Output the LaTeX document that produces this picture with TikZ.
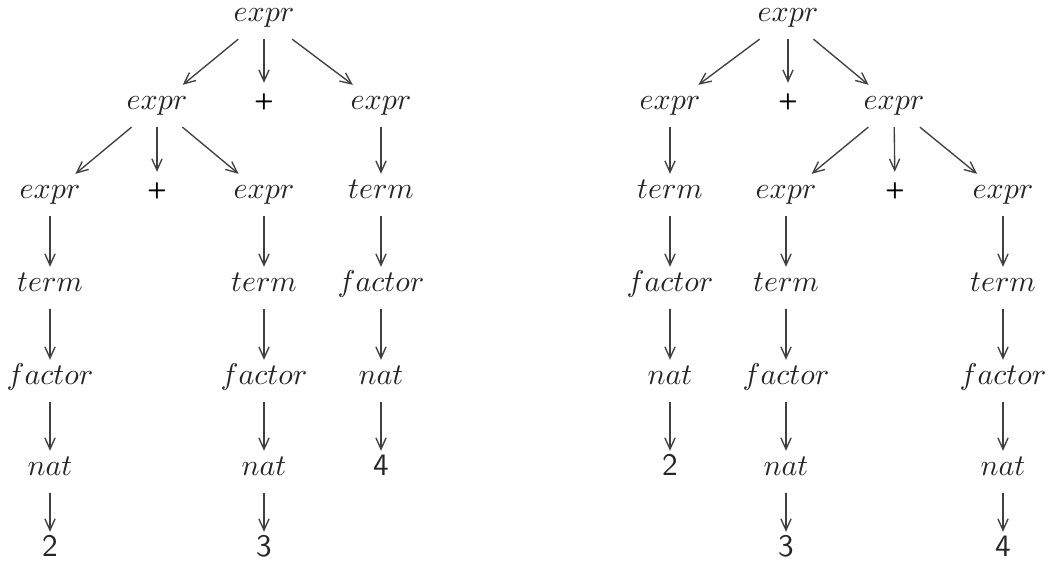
\documentclass[tikz,border=0pt]{standalone}
\usetikzlibrary{arrows.meta}
\begin{document}
\begin{tikzpicture}[x=0.3333pt,y=-0.3333pt,
  nt/.style={font=\fontsize{10.4}{12}\selectfont, text=black!85, text height=6pt, text depth=3.7pt, inner xsep=1pt, inner ysep=2pt},
  tm/.style={nt, font=\fontsize{10.4}{12}\selectfont\sffamily},
  pl/.style={nt, font=\fontsize{7.5}{9}\selectfont\sffamily\bfseries, text=black},
  edge/.style={draw=black!75, line width=0.45pt, -{Straight Barb[length=3.8pt,width=3.4pt]}}]
\useasboundingbox (0,0) rectangle (1050,562);
% left tree
\node[nt] (A) at (264,18) {$expr$};
\node[nt] (B) at (157,106) {$expr$};
\node[pl] (Bp) at (264,104) {+};
\node[nt] (C) at (381,106) {$expr$};
\node[nt] (D) at (50,195) {$expr$};
\node[pl] (Dp) at (157,193) {+};
\node[nt] (E) at (264,195) {$expr$};
\node[nt] (C1) at (381,195) {$term$};
\node[nt] (D1) at (50,288) {$term$};
\node[nt] (E1) at (264,288) {$term$};
\node[nt] (C2) at (381,288) {$factor$};
\node[nt] (D2) at (50,381) {$factor$};
\node[nt] (E2) at (264,381) {$factor$};
\node[nt] (C3) at (381,381) {$nat$};
\node[nt] (D3) at (50,472) {$nat$};
\node[nt] (E3) at (264,472) {$nat$};
\node[tm] (C4) at (381,472) {4};
\node[tm] (D4) at (50,553) {2};
\node[tm] (E4) at (264,553) {3};
\foreach \a/\b in {A/B,A/Bp,A/C,B/D,B/Dp,B/E,C/C1,C1/C2,C2/C3,C3/C4,D/D1,D1/D2,D2/D3,D3/D4,E/E1,E1/E2,E2/E3,E3/E4}
  \draw[edge] (\a) -- (\b);
% right tree
\node[nt] (R) at (788,18) {$expr$};
\node[nt] (F) at (670,106) {$expr$};
\node[pl] (Fp) at (788,104) {+};
\node[nt] (G) at (894,106) {$expr$};
\node[nt] (F1) at (670,195) {$term$};
\node[nt] (H) at (786,195) {$expr$};
\node[pl] (Hp) at (895,193) {+};
\node[nt] (I) at (1003,195) {$expr$};
\node[nt] (F2) at (670,288) {$factor$};
\node[nt] (H1) at (786,288) {$term$};
\node[nt] (I1) at (1003,288) {$term$};
\node[nt] (F3) at (670,381) {$nat$};
\node[nt] (H2) at (786,381) {$factor$};
\node[nt] (I2) at (1003,381) {$factor$};
\node[tm] (F4) at (670,472) {2};
\node[nt] (H3) at (786,472) {$nat$};
\node[nt] (I3) at (1003,472) {$nat$};
\node[tm] (H4) at (786,553) {3};
\node[tm] (I4) at (1003,553) {4};
\foreach \a/\b in {R/F,R/Fp,R/G,F/F1,F1/F2,F2/F3,F3/F4,G/H,G/Hp,G/I,H/H1,H1/H2,H2/H3,H3/H4,I/I1,I1/I2,I2/I3,I3/I4}
  \draw[edge] (\a) -- (\b);
\end{tikzpicture}
\end{document}
